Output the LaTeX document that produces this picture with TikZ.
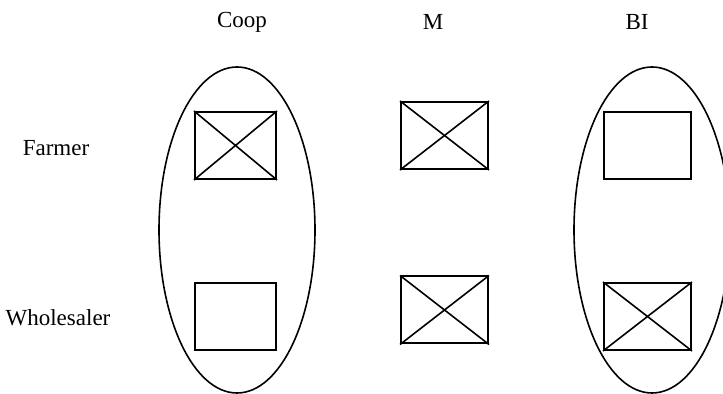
\documentclass[tikz,border=0pt]{standalone}
\usepackage{fontspec}
\setmainfont{Liberation Serif}
\usepackage{tikz}
\usetikzlibrary{shapes.geometric}

\begin{document}
\begin{tikzpicture}[x=0.5pt, y=-0.5pt, line width=0.8pt,
		group/.style={draw, ellipse, minimum width=78pt, minimum height=163pt, inner sep=0pt},
		agent/.style={draw, rectangle, minimum height=33.5pt, inner sep=0pt, line width=1pt},
		lbl/.style={font=\fontsize{11.5}{13}\selectfont}]
			\clip (0,0) rectangle (723,394);
			% column and row headings
			\node[lbl] (Coop) at (242,22) {Coop};
			\node[lbl] (M) at (433,22) {M};
			\node[lbl] (BI) at (637,22) {BI};
			\node[lbl] (Farmer) at (56,148) {Farmer};
			\node[lbl] (Wholesaler) at (58,318) {Wholesaler};
			% groups
			\node[group] (CoopG) at (237,230) {};
			\node[group] (BIG) at (652,230) {};
			% agents
			\node[agent, minimum width=40.5pt] (CoopF) at (235.5,145.5) {};
			\node[agent, minimum width=40.5pt] (CoopW) at (235.5,316.5) {};
			\node[agent, minimum width=43.5pt] (MF) at (444.5,135.5) {};
			\node[agent, minimum width=43.5pt] (MW) at (444.5,310) {};
			\node[agent, minimum width=43.5pt] (BIF) at (647.5,145.5) {};
			\node[agent, minimum width=43.5pt] (BIW) at (647.5,316.5) {};
			% crosses
			\foreach \b in {CoopF, MF, MW, BIW}
				\draw (\b.north west) -- (\b.south east) (\b.south west) -- (\b.north east);
		\end{tikzpicture}
\end{document}
